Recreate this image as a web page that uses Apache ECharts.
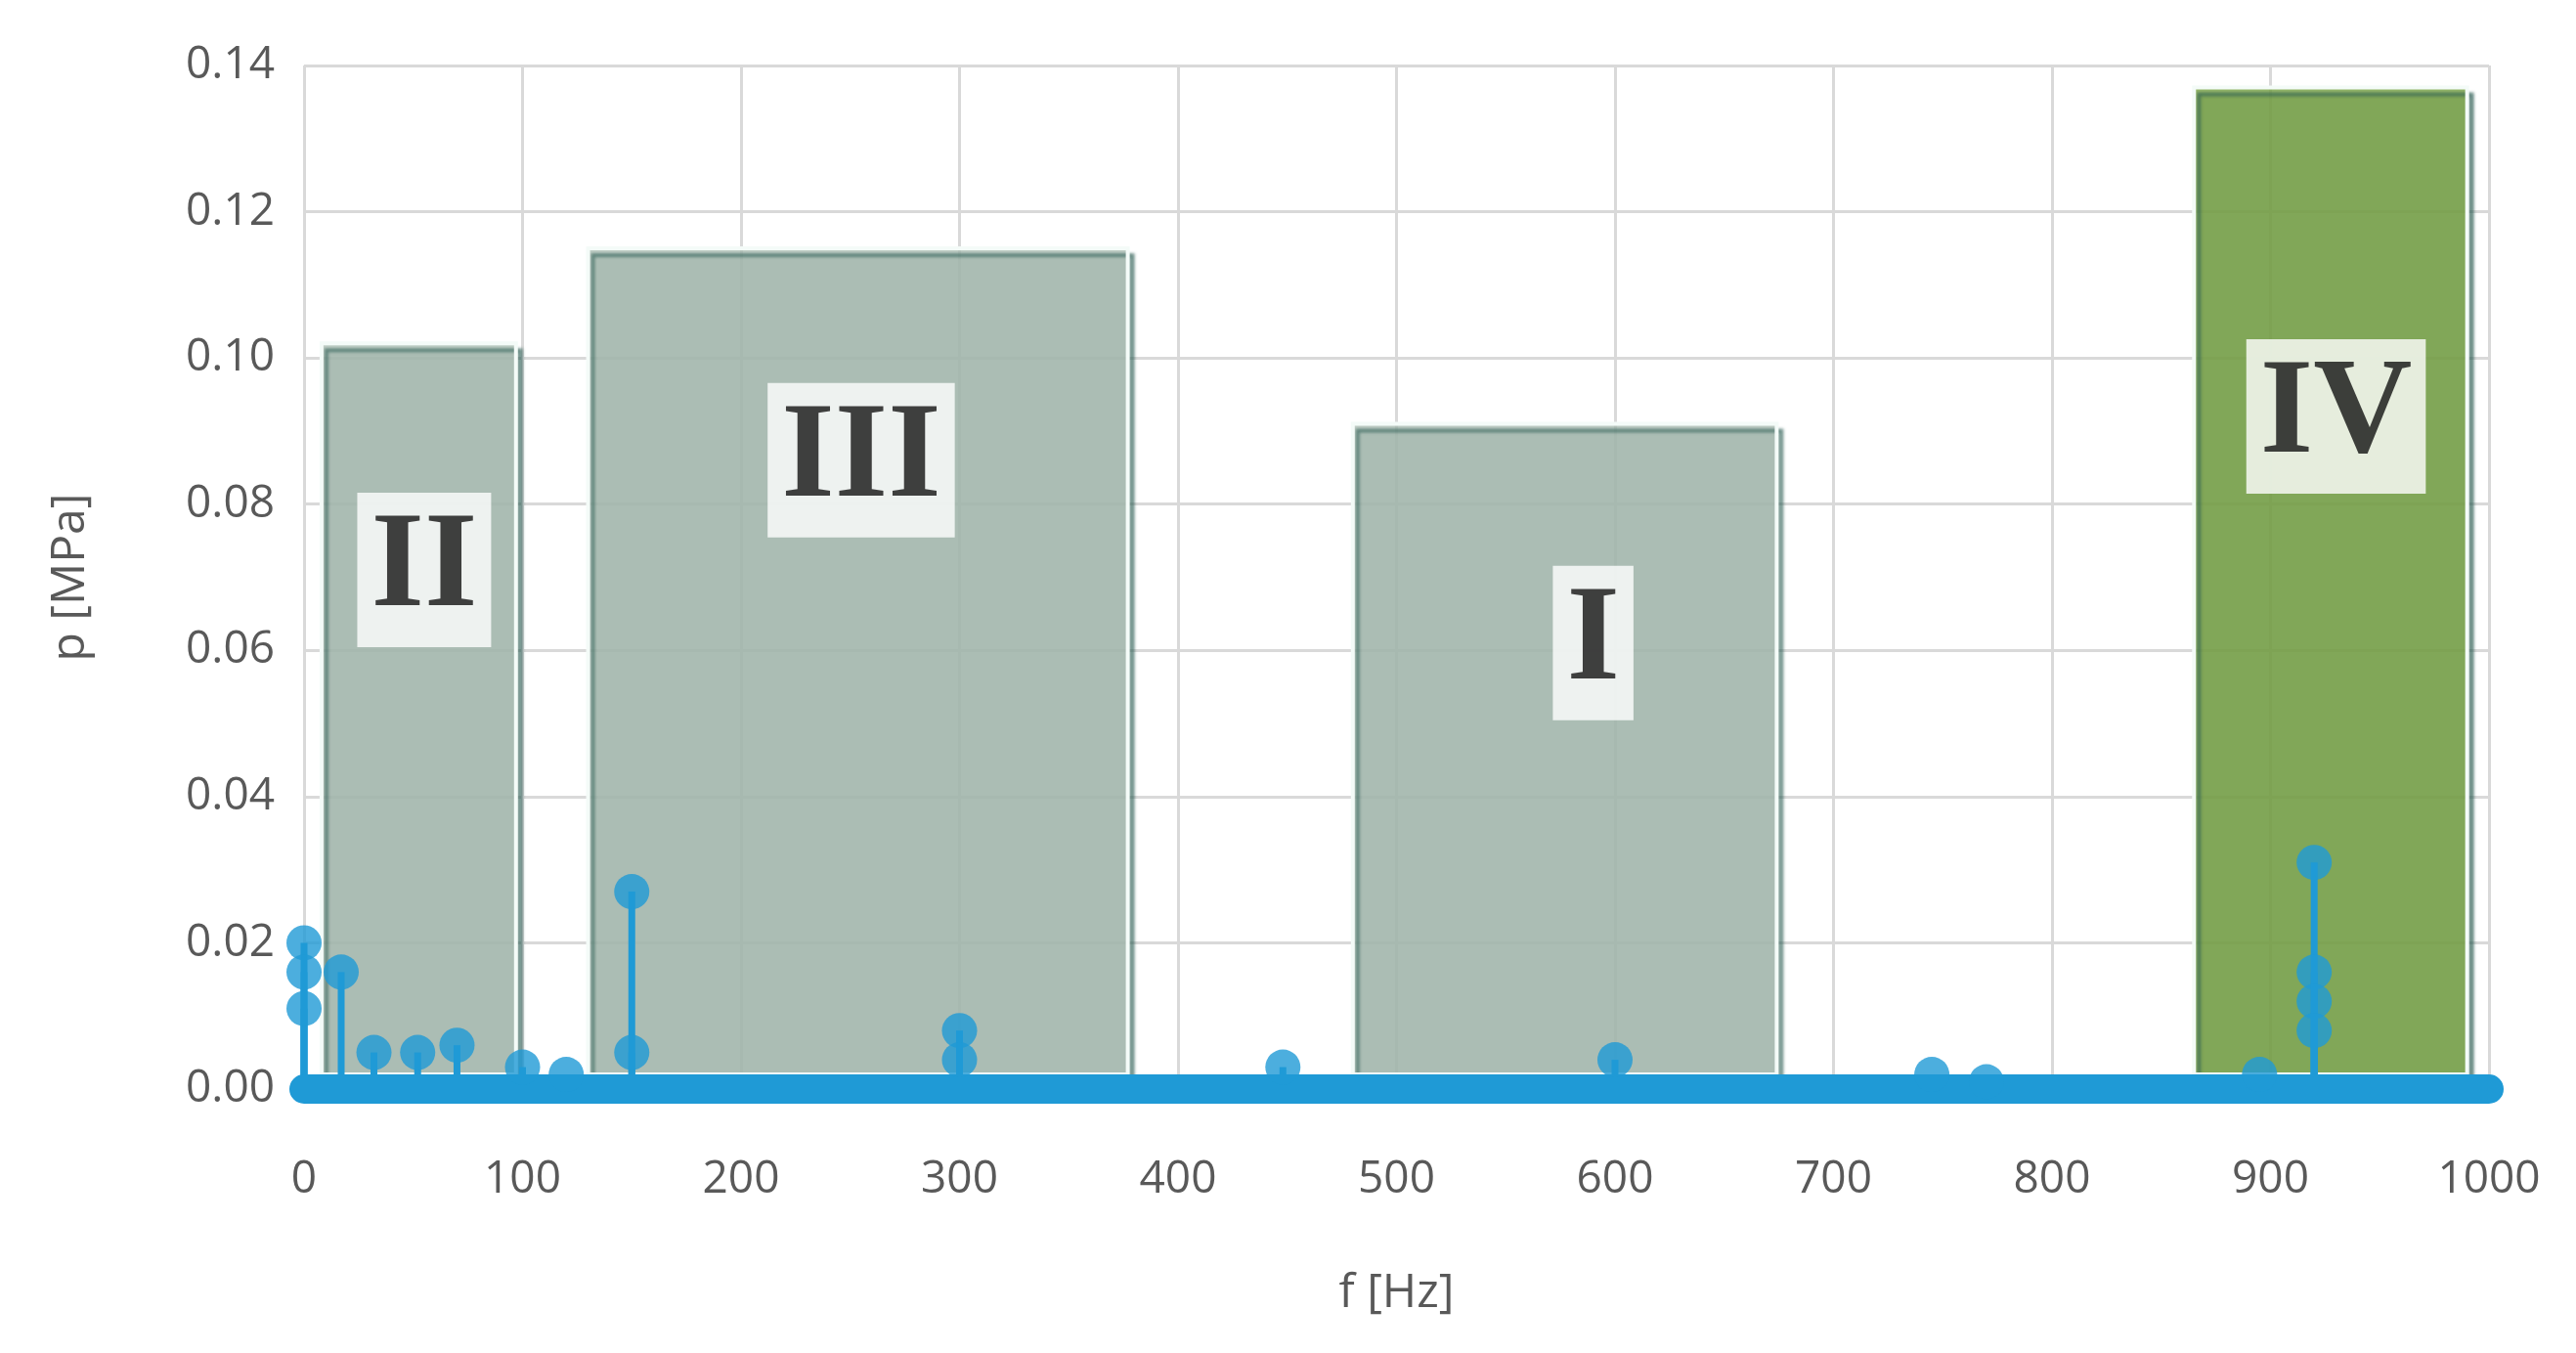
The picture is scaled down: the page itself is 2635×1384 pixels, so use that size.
<!DOCTYPE html>
<html><head><meta charset="utf-8">
<script src="https://cdn.jsdelivr.net/npm/echarts@6/dist/echarts.min.js"></script>
<style>html,body{margin:0;background:#fff}#c{width:2635px;height:1384px}</style>
</head><body><div id="c"></div>
<script>
// spectrum peaks [f, p]
const peaks = [[0,0.020],[0,0.016],[0,0.011],[17,0.016],[32,0.005],[52,0.005],[70,0.006],[100,0.003],
  [120,0.002],[150,0.027],[150,0.005],[300,0.008],[300,0.004],[448,0.003],[600,0.004],
  [745,0.002],[770,0.001],[895,0.002],[920,0.031],[920,0.016],[920,0.012],[920,0.008]];
const baseFreq = [0, 100, 200, 300, 400, 500, 600, 700, 800, 900, 1000];
// regions: [name, fFrom, fTo, pTop, labelF, labelP]
const regions = [
  ['II', 8, 97, 0.102, 55, 0.071],
  ['III', 130, 377, 0.115, 255, 0.086],
  ['I', 480, 674, 0.091, 590, 0.061],
  ['IV', 865, 990, 0.137, 930, 0.092]
];
const boxBottom = 0.002;

const chart = echarts.init(document.getElementById('c'));
const boxColor = n => n === 'IV' ? 'rgba(125,165,70,0.82)' : 'rgba(175,192,182,0.78)';
chart.setOption({
  animation: false,
  grid: {left: 311, right: 89, top: 67, bottom: 270},
  xAxis: {type: 'value', min: 0, max: 1000, interval: 100,
    name: 'f [Hz]', nameLocation: 'middle', nameGap: 185,
    nameTextStyle: {fontSize: 48, color: '#595959', fontFamily: 'Open Sans'},
    axisLine: {show: false}, axisTick: {show: false},
    axisLabel: {fontSize: 46, color: '#595959', margin: 70, fontFamily: 'Open Sans',
      formatter: v => String(v)},
    splitLine: {lineStyle: {color: '#d9d9d9', width: 3}}},
  yAxis: {type: 'value', min: 0, max: 0.14, interval: 0.02,
    name: 'p [MPa]', nameLocation: 'middle', nameGap: 215,
    nameTextStyle: {fontSize: 48, color: '#595959', fontFamily: 'Open Sans'},
    axisLine: {show: false}, axisTick: {show: false},
    axisLabel: {fontSize: 46, color: '#595959', margin: 30, fontFamily: 'Open Sans',
      formatter: v => v.toFixed(2)},
    splitLine: {lineStyle: {color: '#d9d9d9', width: 3}}},
  series: [
    {type: 'line', z: 2, symbol: 'none', data: baseFreq.map(f => [f, 0]),
      lineStyle: {color: '#1f9ad6', width: 30, cap: 'round'}},
    {type: 'bar', z: 2, barWidth: 7, data: peaks, itemStyle: {color: '#1f9ad6'}},
    {type: 'scatter', z: 2, symbolSize: 36, data: peaks, itemStyle: {color: '#1f9ad6'}},
    {type: 'scatter', z: 4, symbolSize: 0, data: [],
      markArea: {silent: true,
        data: regions.map(r => [
          {xAxis: r[1], yAxis: boxBottom, itemStyle: {color: boxColor(r[0]), borderColor: '#f4fbf8', borderWidth: 4,
            shadowColor: 'rgba(40,90,80,0.6)', shadowOffsetX: 5, shadowOffsetY: 7, shadowBlur: 3}},
          {xAxis: r[2], yAxis: r[3]}])}},
    {type: 'scatter', zlevel: 1, z: 6, symbolSize: 0,
      data: regions.map(r => [r[4], r[5], r[0]]),
      label: {show: true, position: 'inside', formatter: p => p.data[2],
        fontFamily: 'Liberation Serif', fontWeight: 'bold', fontSize: 140, color: '#111',
        backgroundColor: '#fff', padding: [16, 14, 2, 14]}}
  ]
});
</script></body></html>
